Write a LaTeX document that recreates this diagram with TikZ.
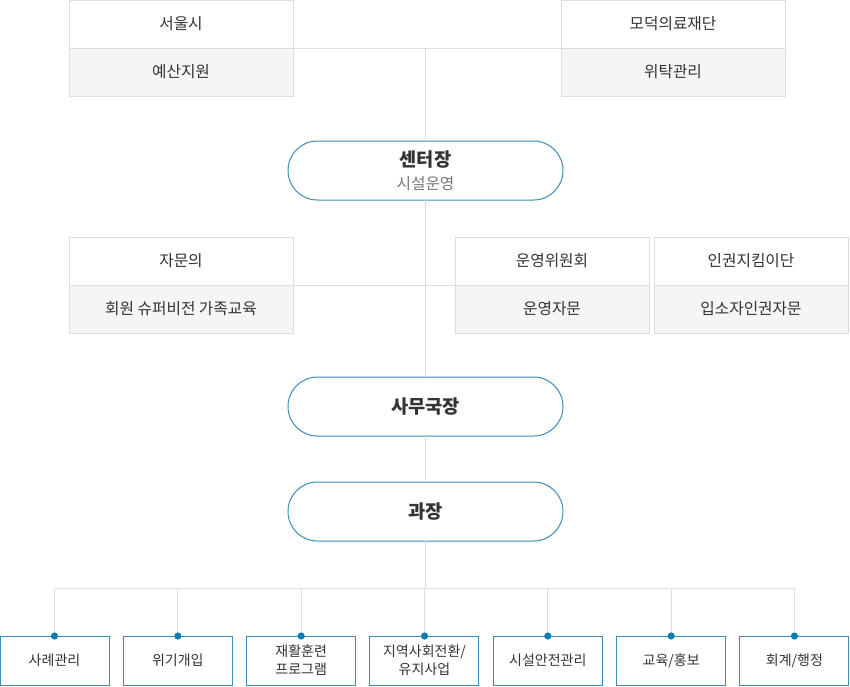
\documentclass[tikz,border=0pt]{standalone}
\usepackage{fontspec}
\setmainfont{Noto Sans CJK KR}
\usetikzlibrary{positioning}

\definecolor{linea}{HTML}{DDDDDD}
\definecolor{azul}{HTML}{3B8DB5}
\definecolor{punto}{HTML}{0B7DB5}
\definecolor{gris}{HTML}{F5F5F5}
\definecolor{texto}{HTML}{333333}
\definecolor{subtexto}{HTML}{777777}

\begin{document}
\begin{tikzpicture}[x=0.75pt,y=-0.75pt,line width=0.75pt,
    celda/.style={draw=linea, fill=white, minimum width=168pt, minimum height=36pt,
      inner sep=0pt, outer sep=0pt, text=texto, font=\fontsize{11.8}{14}\selectfont},
    subcelda/.style={celda, fill=gris},
    jefe/.style={draw=azul, fill=white, rounded corners=22pt, minimum width=206.25pt,
      minimum height=44.25pt, inner sep=0pt, outer sep=0pt, align=center, text=texto},
    area/.style={draw=azul, fill=white, minimum width=81.75pt, minimum height=36.75pt,
      inner sep=0pt, outer sep=0pt, align=center, text=texto,
      font=\fontsize{10.5}{13.5}\selectfont},
    conector/.style={draw=linea}]

    \useasboundingbox (0,0) rectangle (850,686);

    % arriba: apoyo y encargo
    \node[celda] (seoul) at (181,24) {서울시};
    \node[subcelda, below=0pt of seoul] (seoulsub) {예산지원};
    \node[celda] (modeok) at (673,24) {모덕의료재단};
    \node[subcelda, below=0pt of modeok] (modeoksub) {위탁관리};

    % centro
    \node[jefe, font=\fontsize{11.8}{17.5}\selectfont] (centro) at (425.5,170.5)
      {{\fontsize{14}{17.5}\selectfont\bfseries 센터장}\\
       {\color{subtexto}시설운영}};

    % comites
    \node[celda] (jamun) at (181,261) {자문의};
    \node[subcelda, below=0pt of jamun] (jamunsub) {회원 슈퍼비전 가족교육};
    \node[celda, minimum width=145.5pt] (unyeong) at (552,261) {운영위원회};
    \node[subcelda, minimum width=145.5pt, below=0pt of unyeong] (unyeongsub) {운영자문};
    \node[celda, minimum width=145.5pt] (ingwon) at (751,261) {인권지킴이단};
    \node[subcelda, minimum width=145.5pt, below=0pt of ingwon] (ingwonsub) {입소자인권자문};

    % jefes
    \node[jefe, font=\fontsize{14}{17}\selectfont\bfseries] (samu) at (425.5,406.5) {사무국장};
    \node[jefe, font=\fontsize{14}{17}\selectfont\bfseries] (gwajang) at (425.5,511.5) {과장};

    % areas de trabajo
    \foreach \nombre [count=\i from 0] in {사례관리, 위기개입, 재활훈련\\프로그램,
        지역사회전환/\\유지사업, 시설안전관리, 교육/홍보, 회계/행정}
      \node[area] (a\i) at (54.5+123.33*\i,660.5) {\nombre};

    % lineas
    \coordinate (arriba) at (425.5,48);
    \coordinate (bus) at (425.5,588);
    \draw[conector] (seoul.south east) -- (modeok.south west);
    \draw[conector] (jamun.south east) -- (unyeong.south west);
    \draw[conector] (arriba) -- (centro);
    \draw[conector] (centro) -- (samu);
    \draw[conector] (samu) -- (gwajang);
    \draw[conector] (gwajang) -- (bus);
    \draw[conector] (a0.north |- bus) -- (a6.north |- bus);
    \foreach \i in {0,...,6} {
      \draw[conector] (a\i.north |- bus) -- (a\i.north);
      \fill[punto] (a\i.north) circle (2.7pt);
    }

\end{tikzpicture}
\end{document}
